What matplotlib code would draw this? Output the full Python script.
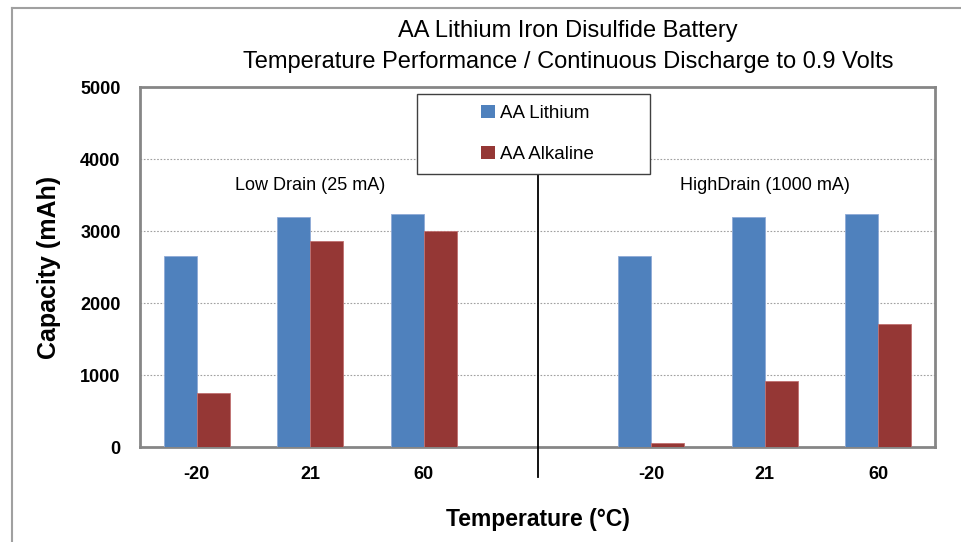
import matplotlib
matplotlib.use("Agg")
import matplotlib.pyplot as plt
import matplotlib.transforms as mtransforms
from matplotlib.patches import Rectangle, Patch
from matplotlib import font_manager
import numpy as np

names = {f.name for f in font_manager.fontManager.ttflist}
FAM = "Liberation Sans Narrow" if "Liberation Sans Narrow" in names else "Liberation Sans"
plt.rcParams['font.family'] = [FAM, 'DejaVu Sans']

categories = ["-20", "21", "60", "", "-20", "21", "60"]
lithium = [2650, 3200, 3240, None, 2650, 3200, 3240]
alkaline = [750, 2860, 3000, None, 60, 910, 1710]
series_names = ["AA Lithium", "AA Alkaline"]
group_labels = ["Low Drain (25 mA)", "HighDrain (1000 mA)"]
title_lines = ["AA Lithium Iron Disulfide Battery",
               "Temperature Performance / Continuous Discharge to 0.9 Volts"]
yticks = [0, 1000, 2000, 3000, 4000, 5000]

c_li = "#4F81BD"
c_al = "#953735"

W, H = 961, 542
fig = plt.figure(figsize=(W/100, H/100), dpi=100)
ax = fig.add_axes([140/W, 1-447/H, 795/W, 360/H])

x = np.arange(len(categories))
bw = 0.29
li_vals = [np.nan if v is None else v for v in lithium]
al_vals = [np.nan if v is None else v for v in alkaline]
ax.bar(x - bw/2, li_vals, bw, color=c_li, edgecolor="#8FAAD6", linewidth=0.6, zorder=3)
ax.bar(x + bw/2, al_vals, bw, color=c_al, edgecolor="#C07070", linewidth=0.6, zorder=3)

ax.set_xlim(-0.5, len(categories) - 0.5)
ax.set_ylim(0, 5000)
ax.set_yticks(yticks)
ax.set_yticklabels([str(t) for t in yticks], fontsize=13, fontweight="bold")
ax.set_xticks(x)
ax.set_xticklabels(categories, fontsize=13, fontweight="bold")
ax.tick_params(axis="both", length=0)
ax.tick_params(axis="y", pad=14)
ax.tick_params(axis="x", pad=14)
for t in yticks[1:-1]:
    ax.axhline(t, color="#A0A0A0", linestyle=(0, (1.5, 1.5)), linewidth=0.8, zorder=1)
for s in ax.spines.values():
    s.set_color("#868686")
    s.set_linewidth(2)

ax.set_ylabel("Capacity (mAh)", fontsize=18, fontweight="bold", labelpad=14)
ax.set_xlabel("Temperature (°C)", fontsize=16.5, fontweight="bold", labelpad=18)

# group annotations
ax.text(1, 3630, group_labels[0], ha="center", va="center", fontsize=13)
ax.text(5, 3630, group_labels[1], ha="center", va="center", fontsize=13)

# divider line
trans = mtransforms.blended_transform_factory(ax.transData, ax.transAxes)
ax.plot([3, 3], [(447-173)/360, (447-477)/360], color="black", linewidth=1.3,
        transform=trans, clip_on=False, zorder=4)

# title
fig.text(568/W, 1-31/H, title_lines[0], ha="center", va="center", fontsize=17)
fig.text(568/W, 1-62/H, title_lines[1], ha="center", va="center", fontsize=17)

# legend box
fig.patches.append(Rectangle((417/W, 1-174/H), 233/W, 80/H, transform=fig.transFigure,
                             facecolor="white", edgecolor="#404040", linewidth=1, zorder=5))
handles = [Patch(facecolor=c_li), Patch(facecolor=c_al)]
leg = fig.legend(handles, series_names, loc="center left", bbox_to_anchor=(472/W, 1-134/H),
                 frameon=False, fontsize=13.5, handlelength=0.7, handleheight=0.7,
                 handletextpad=0.3, labelspacing=1.25, borderpad=0)
leg.set_zorder(6)

# outer chart border
fig.add_artist(plt.Line2D([12/W, 12/W], [0, 1-8/H], color="#A0A0A0", linewidth=1.5,
                          transform=fig.transFigure))
fig.add_artist(plt.Line2D([12/W, 1], [1-8/H, 1-8/H], color="#A0A0A0", linewidth=1.5,
                          transform=fig.transFigure))

fig.savefig("out.png", dpi=100)
